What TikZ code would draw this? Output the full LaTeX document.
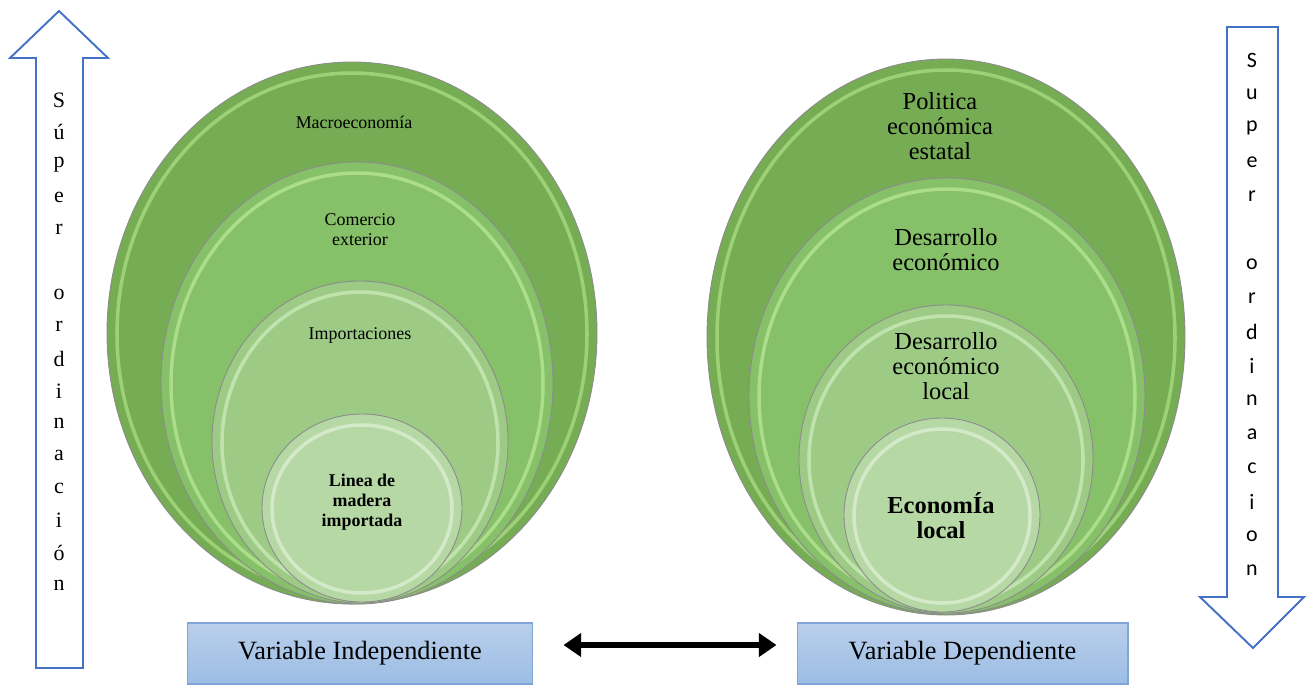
\documentclass[tikz,border=0pt]{standalone}
\usepackage{fontspec}
\setmainfont{Liberation Serif}
\newfontfamily\calibri{Carlito}
\usetikzlibrary{arrows.meta}

\definecolor{gA}{RGB}{117,172,84}
\definecolor{gB}{RGB}{134,192,104}
\definecolor{gC}{RGB}{157,203,134}
\definecolor{gD}{RGB}{182,216,165}
\definecolor{hA}{RGB}{170,222,130}
\definecolor{hB}{RGB}{184,232,150}
\definecolor{hC}{RGB}{205,236,188}
\definecolor{hD}{RGB}{222,240,212}
\definecolor{azul}{RGB}{68,114,196}
\definecolor{cajaT}{RGB}{186,207,234}
\definecolor{cajaB}{RGB}{155,189,229}
\definecolor{cajaL}{RGB}{128,165,214}

\tikzset{
	pelota/.style={fill=#1, draw=black!45, line width=0.5pt},
	brillo/.style={draw=#1, line width=2pt, draw opacity=0.75},
	bloque/.style={draw=azul, line width=1.1pt, line join=miter},
	letra/.style={inner sep=0pt, font=\fontsize{12.5}{14}\selectfont},
	letraB/.style={inner sep=0pt, font=\calibri\fontsize{12.5}{14}\selectfont},
	chico/.style={align=center, font=\fontsize{10.2}{11.3}\selectfont},
	chicoN/.style={align=center, font=\fontsize{10.2}{11.3}\selectfont\bfseries},
	grande/.style={align=center, font=\fontsize{13.9}{14.2}\selectfont},
	grandeN/.style={align=center, font=\fontsize{13.9}{14.2}\selectfont\bfseries},
	caja/.style={draw=cajaL, line width=0.6pt, top color=cajaT, bottom color=cajaB, minimum height=1.22cm, font=\fontsize{15}{16}\selectfont},
	doble/.style={line width=3.4pt, {Triangle[width=13pt,length=10pt]}-{Triangle[width=13pt,length=10pt]}, shorten <=0.6cm, shorten >=0.4cm}
}

\begin{document}
\begin{tikzpicture}[x=0.02cm, y=-0.02cm]

	\useasboundingbox (0,0) rectangle (1316,684);

	%Flechas
	\draw [bloque] (36,668) -- (36,58) -- (10,58) -- (59,11) -- (108,58) -- (83,58) -- (83,668) -- cycle;
	\draw [bloque] (1227,27) -- (1278,27) -- (1278,597) -- (1304,597) -- (1253,648) -- (1200,597) -- (1227,597) -- cycle;
	\foreach \c [count=\k] in {S,ú,p,e,r,{},o,r,d,i,n,a,c,i,ó,n}
	{
		\node [letra] (sl\k) at (59, {100+32.33*(\k-1)}) {\c};
	}
	\foreach \c [count=\k] in {S,u,p,e,r,{},o,r,d,i,n,a,c,i,o,n}
	{
		\node [letraB] (sr\k) at (1252, {60+34*(\k-1)}) {\c};
	}

	%Variable independiente
	\foreach \cx/\cy/\rx/\ry/\col/\hl in {352/333/245/271/gA/hA, 357/383/196/221/gB/hB, 360/442/148/161/gC/hC, 362/508/100/94/gD/hD}
	{
		\filldraw [pelota=\col] (\cx,\cy) ellipse [x radius=\rx, y radius=\ry];
		\draw [brillo=\hl] (\cx,\cy+1) ellipse [x radius=\rx-10, y radius=\ry-10];
	}
	\node [chico] (macro) at (354,122) {Macroeconomía};
	\node [chico] (comex) at (360,230) {Comercio\\exterior};
	\node [chico] (impo) at (360,335) {Importaciones};
	\node [chicoN] (linea) at (362,502) {Linea de\\madera\\importada};

	%Variable dependiente
	\foreach \cx/\cy/\rx/\ry/\col/\hl in {946/337/239/278/gA/hA, 947/396/198/218/gB/hB, 946/459/147/154/gC/hC, 942/515/98/97/gD/hD}
	{
		\filldraw [pelota=\col] (\cx,\cy) ellipse [x radius=\rx, y radius=\ry];
		\draw [brillo=\hl] (\cx,\cy+1) ellipse [x radius=\rx-10, y radius=\ry-10];
	}
	\node [grande] (poli) at (940,126) {Politica\\económica\\estatal};
	\node [grande] (desa) at (946,250) {Desarrollo\\económico};
	\node [grande] (desl) at (946,366) {Desarrollo\\económico\\local};
	\node [grandeN] (ecol) at (941,516) {EconomÍa\\local};

	%Cajas
	\node [caja, minimum width=6.92cm] (indep) at (360,653.5) {Variable Independiente};
	\node [caja, minimum width=6.62cm] (dep) at (962.5,653.5) {Variable Dependiente};
	\draw [doble] ([yshift=0.17cm]indep.east) -- ([yshift=0.17cm]dep.west);

\end{tikzpicture}
\end{document}
